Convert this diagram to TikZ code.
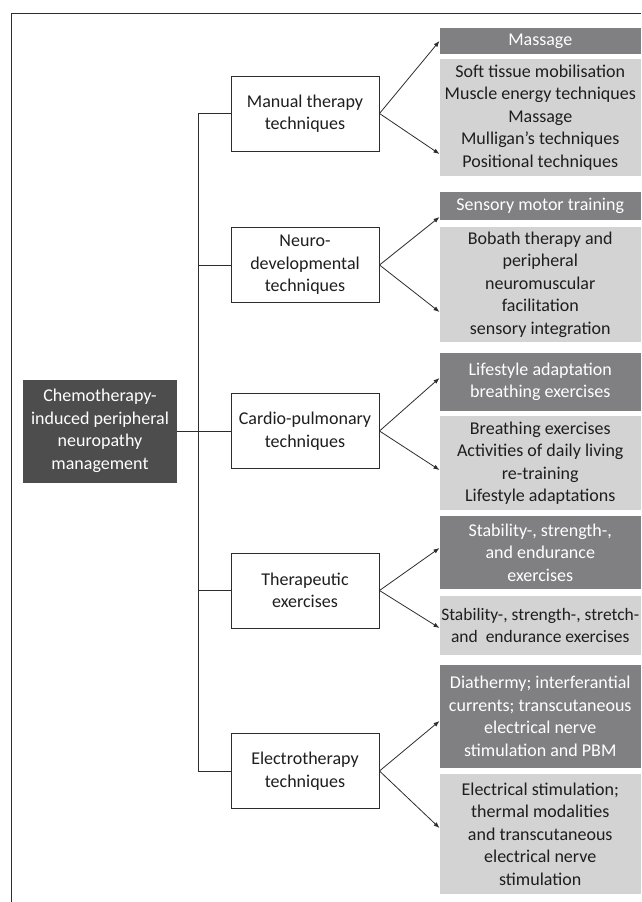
\documentclass[tikz,border=0pt]{standalone}
\usepackage{fontspec}
\setmainfont{Carlito}
\usetikzlibrary{arrows.meta}
\definecolor{mainfill}{RGB}{77,77,77}
\definecolor{darkfill}{RGB}{128,128,130}
\definecolor{lightfill}{RGB}{211,211,211}
\definecolor{linecol}{RGB}{45,45,45}
\definecolor{txt}{RGB}{30,30,30}
\begin{document}
\begin{tikzpicture}[x=1pt,y=-1pt,
  every node/.style={font=\fontsize{18}{22.5}\selectfont, align=center, inner sep=0pt},
  midbox/.style={draw=linecol, line width=1pt, fill=white, text=txt, minimum width=148pt, minimum height=75pt},
  mainbox/.style={fill=mainfill, text=white, minimum width=154pt, minimum height=103pt},
  darkbox/.style={fill=darkfill, text=white, minimum width=201.5pt},
  lightbox/.style={fill=lightfill, text=txt, minimum width=201.5pt},
  conn/.style={draw=linecol, line width=0.8pt},
  arr/.style={conn, -{Latex[length=6pt,width=4.5pt]}}]
\useasboundingbox (0,0) rectangle (641,902);
\fill[white] (0,0) rectangle (641,902);
% frame
\draw[conn] (641,13) -- (11,13) -- (11,902);
% main
\node[mainbox] (main) at (100,431) {Chemotherapy-\\induced peripheral\\neuropathy\\management};
% middle boxes
\node[midbox] (m1) at (305,113.5) {Manual therapy\\techniques};
\node[midbox] (m2) at (305,265) {Neuro-\\developmental\\techniques};
\node[midbox] (m3) at (305,431) {Cardio-pulmonary\\techniques};
\node[midbox] (m4) at (305,590.5) {Therapeutic\\exercises};
\node[midbox] (m5) at (305,771) {Electrotherapy\\techniques};
% right boxes
\node[darkbox, minimum height=26pt] (r1a) at (540.25,41) {Massage};
\node[lightbox, minimum height=117pt] (r1b) at (540.25,117.5) {Soft tissue mobilisation\\Muscle energy techniques\\Massage\\Mulligan’s techniques\\Positional techniques};
\node[darkbox, minimum height=28pt] (r2a) at (540.25,206) {Sensory motor training};
\node[lightbox, minimum height=115pt] (r2b) at (540.25,284.5) {Bobath therapy and\\peripheral\\neuromuscular\\facilitation\\sensory integration};
\node[darkbox, minimum height=58pt] (r3a) at (540.25,382) {Lifestyle adaptation\\breathing exercises};
\node[lightbox, minimum height=94pt] (r3b) at (540.25,463) {Breathing exercises\\Activities of daily living\\re-training\\Lifestyle adaptations};
\node[darkbox, minimum height=73pt] (r4a) at (540.25,552.5) {Stability-, strength-,\\and endurance\\exercises};
\node[lightbox, minimum height=59pt, font=\fontsize{17.5}{22.5}\selectfont] (r4b) at (540.25,625.5) {Stability-, strength-, stretch-\\and~ endurance exercises};
\node[darkbox, minimum height=103pt] (r5a) at (540.25,716.5) {Diathermy; interferantial\\currents; transcutaneous\\electrical nerve\\stimulation and PBM};
\node[lightbox, minimum height=120pt] (r5b) at (540.25,834) {Electrical stimulation;\\thermal modalities\\and transcutaneous\\electrical nerve\\stimulation};
% trunk
\coordinate (trunk) at (198,0);
\draw[conn] (m1.west) -- (m1.west -| trunk) -- (m5.west -| trunk) -- (m5.west);
\draw[conn] (m2.west) -- (m2.west -| trunk);
\draw[conn] (m4.west) -- (m4.west -| trunk);
\draw[conn] (main.east) -- (m3.west);
% arrow targets
\coordinate (t1a) at (439.5,41);
\coordinate (t1b) at (439.5,154);
\coordinate (t2a) at (439.5,217);
\coordinate (t2b) at (439.5,312);
\coordinate (t3a) at (439.5,378);
\coordinate (t3b) at (439.5,470);
\coordinate (t4a) at (439.5,548);
\coordinate (t4b) at (439.5,628);
\coordinate (t5a) at (439.5,721);
\coordinate (t5b) at (439.5,828);
\draw[arr] (m1.east) -- (t1a);
\draw[arr] (m1.east) -- (t1b);
\draw[arr] (m2.east) -- (t2a);
\draw[arr] (m2.east) -- (t2b);
\draw[arr] (m3.east) -- (t3a);
\draw[arr] (m3.east) -- (t3b);
\draw[arr] (m4.east) -- (t4a);
\draw[arr] (m4.east) -- (t4b);
\draw[arr] (m5.east) -- (t5a);
\draw[arr] (m5.east) -- (t5b);
\end{tikzpicture}
\end{document}
